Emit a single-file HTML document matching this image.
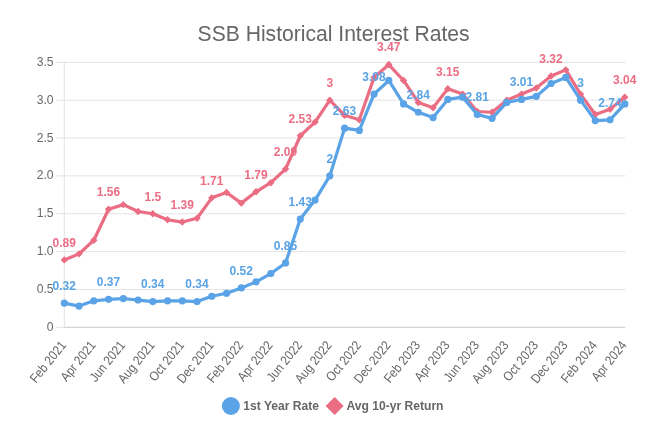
<!DOCTYPE html>
<html><head><meta charset="utf-8"><style>
html,body{margin:0;padding:0;background:#fff;width:666px;height:439px;overflow:hidden}
svg{display:block;font-family:"Liberation Sans",sans-serif;will-change:transform}
</style></head><body>
<svg width="666" height="439" viewBox="0 0 666 439">
<rect width="666" height="439" fill="#ffffff"/>
<text transform="translate(333.6,40.9) scale(0.973,1)" text-anchor="middle" font-size="21.7" fill="#666666">SSB Historical Interest Rates</text>
<line x1="56" y1="327.30" x2="625.30" y2="327.30" stroke="#e3e3e3" stroke-width="1"/>
<text transform="translate(53.5,330.90) scale(0.97,1)" text-anchor="end" font-size="12.5" fill="#666666">0</text>
<line x1="56" y1="289.44" x2="625.30" y2="289.44" stroke="#e3e3e3" stroke-width="1"/>
<text transform="translate(53.5,293.04) scale(0.97,1)" text-anchor="end" font-size="12.5" fill="#666666">0.5</text>
<line x1="56" y1="251.59" x2="625.30" y2="251.59" stroke="#e3e3e3" stroke-width="1"/>
<text transform="translate(53.5,255.19) scale(0.97,1)" text-anchor="end" font-size="12.5" fill="#666666">1.0</text>
<line x1="56" y1="213.73" x2="625.30" y2="213.73" stroke="#e3e3e3" stroke-width="1"/>
<text transform="translate(53.5,217.33) scale(0.97,1)" text-anchor="end" font-size="12.5" fill="#666666">1.5</text>
<line x1="56" y1="175.87" x2="625.30" y2="175.87" stroke="#e3e3e3" stroke-width="1"/>
<text transform="translate(53.5,179.47) scale(0.97,1)" text-anchor="end" font-size="12.5" fill="#666666">2.0</text>
<line x1="56" y1="138.01" x2="625.30" y2="138.01" stroke="#e3e3e3" stroke-width="1"/>
<text transform="translate(53.5,141.61) scale(0.97,1)" text-anchor="end" font-size="12.5" fill="#666666">2.5</text>
<line x1="56" y1="100.16" x2="625.30" y2="100.16" stroke="#e3e3e3" stroke-width="1"/>
<text transform="translate(53.5,103.76) scale(0.97,1)" text-anchor="end" font-size="12.5" fill="#666666">3.0</text>
<line x1="56" y1="62.30" x2="625.30" y2="62.30" stroke="#e3e3e3" stroke-width="1"/>
<text transform="translate(53.5,65.90) scale(0.97,1)" text-anchor="end" font-size="12.5" fill="#666666">3.5</text>
<line x1="64.30" y1="62.30" x2="64.30" y2="327.30" stroke="#e3e3e3" stroke-width="1"/>
<line x1="64.30" y1="327.30" x2="625.30" y2="327.30" stroke="#d0d0d0" stroke-width="1"/>
<text transform="translate(63.10,342.60) rotate(-51) scale(0.88,1)" x="0" y="4.7" text-anchor="end" font-size="13.2" fill="#666666">Feb 2021</text>
<text transform="translate(92.60,342.60) rotate(-51) scale(0.88,1)" x="0" y="4.7" text-anchor="end" font-size="13.2" fill="#666666">Apr 2021</text>
<text transform="translate(122.10,342.60) rotate(-51) scale(0.88,1)" x="0" y="4.7" text-anchor="end" font-size="13.2" fill="#666666">Jun 2021</text>
<text transform="translate(151.60,342.60) rotate(-51) scale(0.88,1)" x="0" y="4.7" text-anchor="end" font-size="13.2" fill="#666666">Aug 2021</text>
<text transform="translate(181.10,342.60) rotate(-51) scale(0.88,1)" x="0" y="4.7" text-anchor="end" font-size="13.2" fill="#666666">Oct 2021</text>
<text transform="translate(210.60,342.60) rotate(-51) scale(0.88,1)" x="0" y="4.7" text-anchor="end" font-size="13.2" fill="#666666">Dec 2021</text>
<text transform="translate(240.10,342.60) rotate(-51) scale(0.88,1)" x="0" y="4.7" text-anchor="end" font-size="13.2" fill="#666666">Feb 2022</text>
<text transform="translate(269.60,342.60) rotate(-51) scale(0.88,1)" x="0" y="4.7" text-anchor="end" font-size="13.2" fill="#666666">Apr 2022</text>
<text transform="translate(299.10,342.60) rotate(-51) scale(0.88,1)" x="0" y="4.7" text-anchor="end" font-size="13.2" fill="#666666">Jun 2022</text>
<text transform="translate(328.60,342.60) rotate(-51) scale(0.88,1)" x="0" y="4.7" text-anchor="end" font-size="13.2" fill="#666666">Aug 2022</text>
<text transform="translate(358.10,342.60) rotate(-51) scale(0.88,1)" x="0" y="4.7" text-anchor="end" font-size="13.2" fill="#666666">Oct 2022</text>
<text transform="translate(387.60,342.60) rotate(-51) scale(0.88,1)" x="0" y="4.7" text-anchor="end" font-size="13.2" fill="#666666">Dec 2022</text>
<text transform="translate(417.10,342.60) rotate(-51) scale(0.88,1)" x="0" y="4.7" text-anchor="end" font-size="13.2" fill="#666666">Feb 2023</text>
<text transform="translate(446.60,342.60) rotate(-51) scale(0.88,1)" x="0" y="4.7" text-anchor="end" font-size="13.2" fill="#666666">Apr 2023</text>
<text transform="translate(476.10,342.60) rotate(-51) scale(0.88,1)" x="0" y="4.7" text-anchor="end" font-size="13.2" fill="#666666">Jun 2023</text>
<text transform="translate(505.60,342.60) rotate(-51) scale(0.88,1)" x="0" y="4.7" text-anchor="end" font-size="13.2" fill="#666666">Aug 2023</text>
<text transform="translate(535.10,342.60) rotate(-51) scale(0.88,1)" x="0" y="4.7" text-anchor="end" font-size="13.2" fill="#666666">Oct 2023</text>
<text transform="translate(564.60,342.60) rotate(-51) scale(0.88,1)" x="0" y="4.7" text-anchor="end" font-size="13.2" fill="#666666">Dec 2023</text>
<text transform="translate(594.10,342.60) rotate(-51) scale(0.88,1)" x="0" y="4.7" text-anchor="end" font-size="13.2" fill="#666666">Feb 2024</text>
<text transform="translate(623.60,342.60) rotate(-51) scale(0.88,1)" x="0" y="4.7" text-anchor="end" font-size="13.2" fill="#666666">Apr 2024</text>
<polyline points="64.30,259.91 79.05,253.86 93.80,240.23 108.55,209.19 123.30,204.64 138.05,211.46 152.80,213.73 167.55,219.79 182.30,222.06 197.05,218.27 211.80,197.83 226.55,192.53 241.30,203.13 256.05,191.77 270.80,182.69 285.55,169.06 300.30,135.74 315.05,122.11 329.80,100.16 344.55,115.30 359.30,119.84 374.05,77.44 388.80,64.57 403.55,80.47 418.30,102.43 433.05,107.73 447.80,88.80 462.55,94.10 477.30,111.51 492.05,112.27 506.80,100.16 521.55,94.10 536.30,88.04 551.05,75.93 565.80,69.87 580.55,94.10 595.30,114.54 610.05,109.24 624.80,97.13" fill="none" stroke="#eb6d84" stroke-width="3.2" stroke-linejoin="round" stroke-linecap="round"/>
<path d="M64.30 256.21L68.00 259.91L64.30 263.61L60.60 259.91Z" fill="#eb6d84"/>
<path d="M79.05 250.16L82.75 253.86L79.05 257.56L75.35 253.86Z" fill="#eb6d84"/>
<path d="M93.80 236.53L97.50 240.23L93.80 243.93L90.10 240.23Z" fill="#eb6d84"/>
<path d="M108.55 205.49L112.25 209.19L108.55 212.89L104.85 209.19Z" fill="#eb6d84"/>
<path d="M123.30 200.94L127.00 204.64L123.30 208.34L119.60 204.64Z" fill="#eb6d84"/>
<path d="M138.05 207.76L141.75 211.46L138.05 215.16L134.35 211.46Z" fill="#eb6d84"/>
<path d="M152.80 210.03L156.50 213.73L152.80 217.43L149.10 213.73Z" fill="#eb6d84"/>
<path d="M167.55 216.09L171.25 219.79L167.55 223.49L163.85 219.79Z" fill="#eb6d84"/>
<path d="M182.30 218.36L186.00 222.06L182.30 225.76L178.60 222.06Z" fill="#eb6d84"/>
<path d="M197.05 214.57L200.75 218.27L197.05 221.97L193.35 218.27Z" fill="#eb6d84"/>
<path d="M211.80 194.13L215.50 197.83L211.80 201.53L208.10 197.83Z" fill="#eb6d84"/>
<path d="M226.55 188.83L230.25 192.53L226.55 196.23L222.85 192.53Z" fill="#eb6d84"/>
<path d="M241.30 199.43L245.00 203.13L241.30 206.83L237.60 203.13Z" fill="#eb6d84"/>
<path d="M256.05 188.07L259.75 191.77L256.05 195.47L252.35 191.77Z" fill="#eb6d84"/>
<path d="M270.80 178.99L274.50 182.69L270.80 186.39L267.10 182.69Z" fill="#eb6d84"/>
<path d="M285.55 165.36L289.25 169.06L285.55 172.76L281.85 169.06Z" fill="#eb6d84"/>
<path d="M300.30 132.04L304.00 135.74L300.30 139.44L296.60 135.74Z" fill="#eb6d84"/>
<path d="M315.05 118.41L318.75 122.11L315.05 125.81L311.35 122.11Z" fill="#eb6d84"/>
<path d="M329.80 96.46L333.50 100.16L329.80 103.86L326.10 100.16Z" fill="#eb6d84"/>
<path d="M344.55 111.60L348.25 115.30L344.55 119.00L340.85 115.30Z" fill="#eb6d84"/>
<path d="M359.30 116.14L363.00 119.84L359.30 123.54L355.60 119.84Z" fill="#eb6d84"/>
<path d="M374.05 73.74L377.75 77.44L374.05 81.14L370.35 77.44Z" fill="#eb6d84"/>
<path d="M388.80 60.87L392.50 64.57L388.80 68.27L385.10 64.57Z" fill="#eb6d84"/>
<path d="M403.55 76.77L407.25 80.47L403.55 84.17L399.85 80.47Z" fill="#eb6d84"/>
<path d="M418.30 98.73L422.00 102.43L418.30 106.13L414.60 102.43Z" fill="#eb6d84"/>
<path d="M433.05 104.03L436.75 107.73L433.05 111.43L429.35 107.73Z" fill="#eb6d84"/>
<path d="M447.80 85.10L451.50 88.80L447.80 92.50L444.10 88.80Z" fill="#eb6d84"/>
<path d="M462.55 90.40L466.25 94.10L462.55 97.80L458.85 94.10Z" fill="#eb6d84"/>
<path d="M477.30 107.81L481.00 111.51L477.30 115.21L473.60 111.51Z" fill="#eb6d84"/>
<path d="M492.05 108.57L495.75 112.27L492.05 115.97L488.35 112.27Z" fill="#eb6d84"/>
<path d="M506.80 96.46L510.50 100.16L506.80 103.86L503.10 100.16Z" fill="#eb6d84"/>
<path d="M521.55 90.40L525.25 94.10L521.55 97.80L517.85 94.10Z" fill="#eb6d84"/>
<path d="M536.30 84.34L540.00 88.04L536.30 91.74L532.60 88.04Z" fill="#eb6d84"/>
<path d="M551.05 72.23L554.75 75.93L551.05 79.63L547.35 75.93Z" fill="#eb6d84"/>
<path d="M565.80 66.17L569.50 69.87L565.80 73.57L562.10 69.87Z" fill="#eb6d84"/>
<path d="M580.55 90.40L584.25 94.10L580.55 97.80L576.85 94.10Z" fill="#eb6d84"/>
<path d="M595.30 110.84L599.00 114.54L595.30 118.24L591.60 114.54Z" fill="#eb6d84"/>
<path d="M610.05 105.54L613.75 109.24L610.05 112.94L606.35 109.24Z" fill="#eb6d84"/>
<path d="M624.80 93.43L628.50 97.13L624.80 100.83L621.10 97.13Z" fill="#eb6d84"/>
<polyline points="64.30,303.07 79.05,306.10 93.80,300.80 108.55,299.29 123.30,298.53 138.05,300.04 152.80,301.56 167.55,300.80 182.30,300.80 197.05,301.56 211.80,296.26 226.55,293.23 241.30,287.93 256.05,281.87 270.80,273.54 285.55,262.94 300.30,219.03 315.05,200.10 329.80,175.87 344.55,128.17 359.30,130.44 374.05,94.10 388.80,80.47 403.55,103.94 418.30,112.27 433.05,117.57 447.80,99.40 462.55,97.13 477.30,114.54 492.05,118.33 506.80,102.43 521.55,99.40 536.30,96.37 551.05,83.50 565.80,77.44 580.55,100.16 595.30,120.60 610.05,119.84 624.80,103.94" fill="none" stroke="#59a3e6" stroke-width="3.2" stroke-linejoin="round" stroke-linecap="round"/>
<circle cx="64.30" cy="303.07" r="3.6" fill="#59a3e6"/>
<circle cx="79.05" cy="306.10" r="3.6" fill="#59a3e6"/>
<circle cx="93.80" cy="300.80" r="3.6" fill="#59a3e6"/>
<circle cx="108.55" cy="299.29" r="3.6" fill="#59a3e6"/>
<circle cx="123.30" cy="298.53" r="3.6" fill="#59a3e6"/>
<circle cx="138.05" cy="300.04" r="3.6" fill="#59a3e6"/>
<circle cx="152.80" cy="301.56" r="3.6" fill="#59a3e6"/>
<circle cx="167.55" cy="300.80" r="3.6" fill="#59a3e6"/>
<circle cx="182.30" cy="300.80" r="3.6" fill="#59a3e6"/>
<circle cx="197.05" cy="301.56" r="3.6" fill="#59a3e6"/>
<circle cx="211.80" cy="296.26" r="3.6" fill="#59a3e6"/>
<circle cx="226.55" cy="293.23" r="3.6" fill="#59a3e6"/>
<circle cx="241.30" cy="287.93" r="3.6" fill="#59a3e6"/>
<circle cx="256.05" cy="281.87" r="3.6" fill="#59a3e6"/>
<circle cx="270.80" cy="273.54" r="3.6" fill="#59a3e6"/>
<circle cx="285.55" cy="262.94" r="3.6" fill="#59a3e6"/>
<circle cx="300.30" cy="219.03" r="3.6" fill="#59a3e6"/>
<circle cx="315.05" cy="200.10" r="3.6" fill="#59a3e6"/>
<circle cx="329.80" cy="175.87" r="3.6" fill="#59a3e6"/>
<circle cx="344.55" cy="128.17" r="3.6" fill="#59a3e6"/>
<circle cx="359.30" cy="130.44" r="3.6" fill="#59a3e6"/>
<circle cx="374.05" cy="94.10" r="3.6" fill="#59a3e6"/>
<circle cx="388.80" cy="80.47" r="3.6" fill="#59a3e6"/>
<circle cx="403.55" cy="103.94" r="3.6" fill="#59a3e6"/>
<circle cx="418.30" cy="112.27" r="3.6" fill="#59a3e6"/>
<circle cx="433.05" cy="117.57" r="3.6" fill="#59a3e6"/>
<circle cx="447.80" cy="99.40" r="3.6" fill="#59a3e6"/>
<circle cx="462.55" cy="97.13" r="3.6" fill="#59a3e6"/>
<circle cx="477.30" cy="114.54" r="3.6" fill="#59a3e6"/>
<circle cx="492.05" cy="118.33" r="3.6" fill="#59a3e6"/>
<circle cx="506.80" cy="102.43" r="3.6" fill="#59a3e6"/>
<circle cx="521.55" cy="99.40" r="3.6" fill="#59a3e6"/>
<circle cx="536.30" cy="96.37" r="3.6" fill="#59a3e6"/>
<circle cx="551.05" cy="83.50" r="3.6" fill="#59a3e6"/>
<circle cx="565.80" cy="77.44" r="3.6" fill="#59a3e6"/>
<circle cx="580.55" cy="100.16" r="3.6" fill="#59a3e6"/>
<circle cx="595.30" cy="120.60" r="3.6" fill="#59a3e6"/>
<circle cx="610.05" cy="119.84" r="3.6" fill="#59a3e6"/>
<circle cx="624.80" cy="103.94" r="3.6" fill="#59a3e6"/>
<text x="64.30" y="246.81" text-anchor="middle" font-size="12" font-weight="bold" fill="#eb6d84">0.89</text>
<text x="108.55" y="196.09" text-anchor="middle" font-size="12" font-weight="bold" fill="#eb6d84">1.56</text>
<text x="152.80" y="200.63" text-anchor="middle" font-size="12" font-weight="bold" fill="#eb6d84">1.5</text>
<text x="182.30" y="208.96" text-anchor="middle" font-size="12" font-weight="bold" fill="#eb6d84">1.39</text>
<text x="211.80" y="184.73" text-anchor="middle" font-size="12" font-weight="bold" fill="#eb6d84">1.71</text>
<text x="256.05" y="178.67" text-anchor="middle" font-size="12" font-weight="bold" fill="#eb6d84">1.79</text>
<text x="285.55" y="155.96" text-anchor="middle" font-size="12" font-weight="bold" fill="#eb6d84">2.09</text>
<text x="300.30" y="122.64" text-anchor="middle" font-size="12" font-weight="bold" fill="#eb6d84">2.53</text>
<text x="329.80" y="87.06" text-anchor="middle" font-size="12" font-weight="bold" fill="#eb6d84">3</text>
<text x="388.80" y="51.47" text-anchor="middle" font-size="12" font-weight="bold" fill="#eb6d84">3.47</text>
<text x="447.80" y="75.70" text-anchor="middle" font-size="12" font-weight="bold" fill="#eb6d84">3.15</text>
<text x="551.05" y="62.83" text-anchor="middle" font-size="12" font-weight="bold" fill="#eb6d84">3.32</text>
<text x="624.80" y="84.03" text-anchor="middle" font-size="12" font-weight="bold" fill="#eb6d84">3.04</text>
<text x="64.30" y="289.97" text-anchor="middle" font-size="12" font-weight="bold" fill="#59a3e6">0.32</text>
<text x="108.55" y="286.19" text-anchor="middle" font-size="12" font-weight="bold" fill="#59a3e6">0.37</text>
<text x="152.80" y="288.46" text-anchor="middle" font-size="12" font-weight="bold" fill="#59a3e6">0.34</text>
<text x="197.05" y="288.46" text-anchor="middle" font-size="12" font-weight="bold" fill="#59a3e6">0.34</text>
<text x="241.30" y="274.83" text-anchor="middle" font-size="12" font-weight="bold" fill="#59a3e6">0.52</text>
<text x="285.55" y="249.84" text-anchor="middle" font-size="12" font-weight="bold" fill="#59a3e6">0.85</text>
<text x="300.30" y="205.93" text-anchor="middle" font-size="12" font-weight="bold" fill="#59a3e6">1.43</text>
<text x="329.80" y="162.77" text-anchor="middle" font-size="12" font-weight="bold" fill="#59a3e6">2</text>
<text x="344.55" y="115.07" text-anchor="middle" font-size="12" font-weight="bold" fill="#59a3e6">2.63</text>
<text x="374.05" y="81.00" text-anchor="middle" font-size="12" font-weight="bold" fill="#59a3e6">3.08</text>
<text x="418.30" y="99.17" text-anchor="middle" font-size="12" font-weight="bold" fill="#59a3e6">2.84</text>
<text x="477.30" y="101.44" text-anchor="middle" font-size="12" font-weight="bold" fill="#59a3e6">2.81</text>
<text x="521.55" y="86.30" text-anchor="middle" font-size="12" font-weight="bold" fill="#59a3e6">3.01</text>
<text x="580.55" y="87.06" text-anchor="middle" font-size="12" font-weight="bold" fill="#59a3e6">3</text>
<text x="610.05" y="106.74" text-anchor="middle" font-size="12" font-weight="bold" fill="#59a3e6">2.74</text>
<circle cx="230.9" cy="406" r="9" fill="#59a3e6"/>
<text transform="translate(243.3,410.3) scale(0.968,1)" font-size="12.5" font-weight="bold" fill="#666666">1st Year Rate</text>
<path d="M334.6 397L343.6 406L334.6 415L325.6 406Z" fill="#eb6d84"/>
<text transform="translate(346.5,410.3) scale(0.968,1)" font-size="12.5" font-weight="bold" fill="#666666">Avg 10-yr Return</text>
</svg>
</body></html>
